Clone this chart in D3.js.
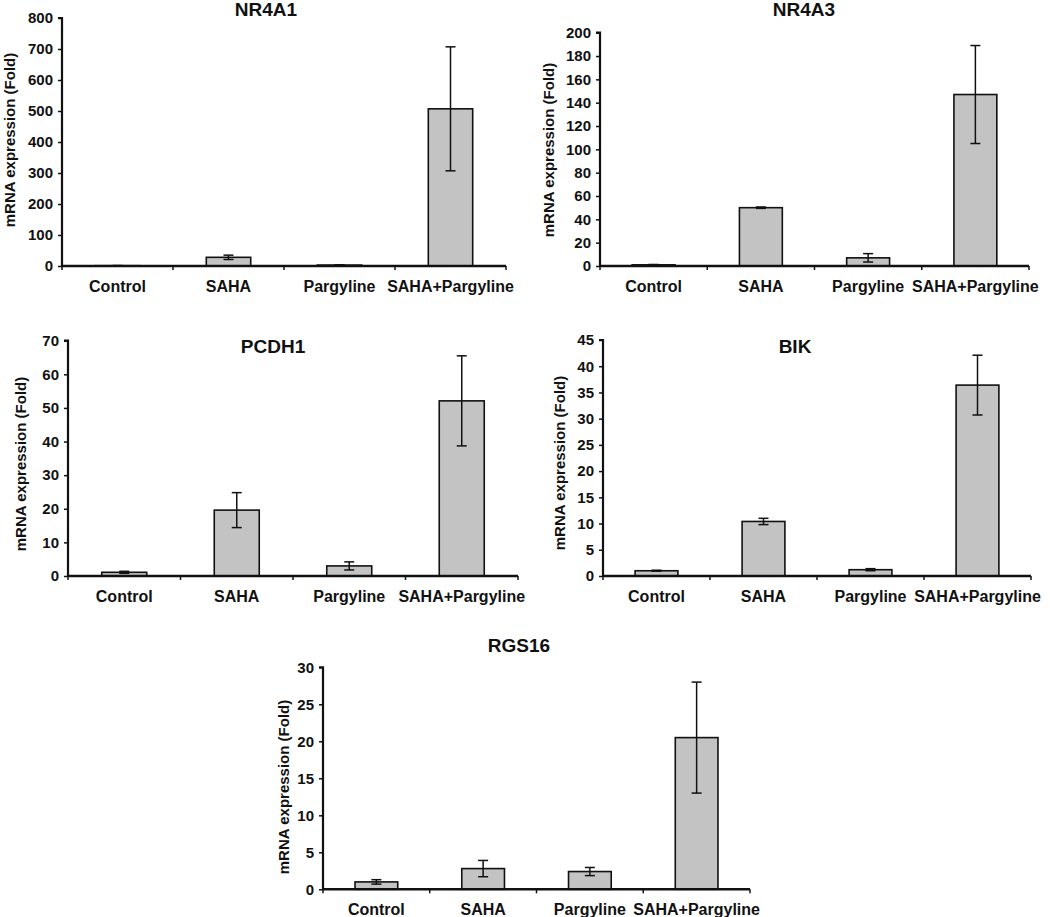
<!DOCTYPE html>
<html>
<head>
<meta charset="utf-8">
<script src="https://cdn.jsdelivr.net/npm/d3@7"></script>
<style>
  html, body { margin: 0; padding: 0; background: #fff; }
  svg { display: block; }
  text { font-family: "Liberation Sans", Arial, sans-serif; fill: #111; }
</style>
</head>
<body>
<svg id="chart" width="1050" height="917"></svg>
<script>
// ---------- DATA ----------
const categories = ["Control", "SAHA", "Pargyline", "SAHA+Pargyline"];
const genes = ["NR4A1", "NR4A3", "PCDH1", "BIK", "RGS16"];
const yLabel = "mRNA expression (Fold)";

const nr4a1Mean = [1, 28, 3, 507];
const nr4a1Err  = [0.5, 7, 1, 200];
const nr4a3Mean = [1, 50, 7, 147];
const nr4a3Err  = [0.3, 0.6, 3.6, 42];
const pcdh1Mean = [1.1, 19.6, 3.0, 52.1];
const pcdh1Err  = [0.3, 5.2, 1.2, 13.4];
const bikMean   = [1.0, 10.4, 1.2, 36.4];
const bikErr    = [0.1, 0.6, 0.2, 5.7];
const rgs16Mean = [1.0, 2.8, 2.4, 20.5];
const rgs16Err  = [0.3, 1.1, 0.55, 7.5];

const nr4a1Ticks = [0, 100, 200, 300, 400, 500, 600, 700, 800];
const nr4a3Ticks = [0, 20, 40, 60, 80, 100, 120, 140, 160, 180, 200];
const pcdh1Ticks = [0, 10, 20, 30, 40, 50, 60, 70];
const bikTicks   = [0, 5, 10, 15, 20, 25, 30, 35, 40, 45];
const rgs16Ticks = [0, 5, 10, 15, 20, 25, 30];

// ---------- LAYOUT ----------
const panels = [
  { gene: genes[0], mean: nr4a1Mean, err: nr4a1Err, ticks: nr4a1Ticks,
    x0: 62, x1: 506, yTop: 18, yBot: 266, tx: 266, ty: 16, lx: 9, ly: 140 },
  { gene: genes[1], mean: nr4a3Mean, err: nr4a3Err, ticks: nr4a3Ticks,
    x0: 600, x1: 1029, yTop: 32.7, yBot: 266, tx: 804, ty: 16, lx: 548, ly: 150 },
  { gene: genes[2], mean: pcdh1Mean, err: pcdh1Err, ticks: pcdh1Ticks,
    x0: 68, x1: 518, yTop: 340.7, yBot: 576, tx: 273, ty: 353, lx: 20, ly: 464 },
  { gene: genes[3], mean: bikMean, err: bikErr, ticks: bikTicks,
    x0: 603, x1: 1031, yTop: 340, yBot: 576, tx: 795, ty: 353, lx: 559, ly: 463 },
  { gene: genes[4], mean: rgs16Mean, err: rgs16Err, ticks: rgs16Ticks,
    x0: 323, x1: 750, yTop: 667.3, yBot: 889.3, tx: 519, ty: 652, lx: 283, ly: 787 }
];

const svg = d3.select("#chart");

panels.forEach(p => {
  const g = svg.append("g");
  const x = d3.scaleBand().domain(categories).range([p.x0, p.x1]).padding(0);
  const y = d3.scaleLinear()
    .domain([0, p.ticks[p.ticks.length - 1]])
    .range([p.yBot, p.yTop]);
  const bw = x.bandwidth() * 0.4;

  // bars
  g.selectAll("rect.bar").data(categories).join("rect")
    .attr("class", "bar")
    .attr("x", c => x(c) + x.bandwidth() / 2 - bw / 2)
    .attr("width", bw)
    .attr("y", (c, i) => y(p.mean[i]))
    .attr("height", (c, i) => y(0) - y(p.mean[i]))
    .attr("fill", "#c3c3c3")
    .attr("stroke", "#111")
    .attr("stroke-width", 1.6);

  // error bars
  const cap = 5;
  categories.forEach((c, i) => {
    const cx = x(c) + x.bandwidth() / 2;
    const hi = y(p.mean[i] + p.err[i]);
    const lo = y(Math.max(0, p.mean[i] - p.err[i]));
    g.append("line").attr("x1", cx).attr("x2", cx).attr("y1", hi).attr("y2", lo)
      .attr("stroke", "#111").attr("stroke-width", 1.5);
    g.append("line").attr("x1", cx - cap).attr("x2", cx + cap).attr("y1", hi).attr("y2", hi)
      .attr("stroke", "#111").attr("stroke-width", 1.5);
    g.append("line").attr("x1", cx - cap).attr("x2", cx + cap).attr("y1", lo).attr("y2", lo)
      .attr("stroke", "#111").attr("stroke-width", 1.5);
  });

  // y axis
  const yAxis = d3.axisLeft(y).tickValues(p.ticks).tickSize(4).tickPadding(5).tickFormat(d3.format("d"));
  const ya = g.append("g").attr("transform", `translate(${p.x0},0)`).call(yAxis);
  ya.select(".domain").attr("stroke", "#111").attr("stroke-width", 2.2)
    .attr("d", `M-4,${p.yTop}H0V${p.yBot}`);
  ya.selectAll(".tick line").attr("stroke", "#111").attr("stroke-width", 1.5);
  ya.selectAll(".tick text").attr("font-size", 15).attr("font-weight", "bold").attr("fill", "#111");

  // x axis: separators at band boundaries
  const xa = g.append("g");
  xa.append("line").attr("x1", p.x0).attr("x2", p.x1).attr("y1", p.yBot).attr("y2", p.yBot)
    .attr("stroke", "#111").attr("stroke-width", 2.6);
  const bounds = categories.map(c => x(c)).concat([x.range()[1]]);
  xa.selectAll("line.sep").data(bounds).join("line").attr("class", "sep")
    .attr("x1", d => d).attr("x2", d => d)
    .attr("y1", p.yBot).attr("y2", p.yBot + 4)
    .attr("stroke", "#111").attr("stroke-width", 1.5);
  xa.selectAll("text.cat").data(categories).join("text").attr("class", "cat")
    .attr("x", c => x(c) + x.bandwidth() / 2)
    .attr("y", p.yBot + 26)
    .attr("text-anchor", "middle")
    .attr("font-size", 16).attr("font-weight", "bold")
    .text(c => c);

  // title
  g.append("text").attr("x", p.tx).attr("y", p.ty)
    .attr("text-anchor", "middle").attr("font-size", 19).attr("font-weight", "bold")
    .text(p.gene);

  // y label
  g.append("text")
    .attr("transform", `translate(${p.lx},${p.ly}) rotate(-90)`)
    .attr("text-anchor", "middle").attr("dominant-baseline", "central")
    .attr("font-size", 15).attr("font-weight", "bold")
    .text(yLabel);
});
</script>
</body>
</html>
